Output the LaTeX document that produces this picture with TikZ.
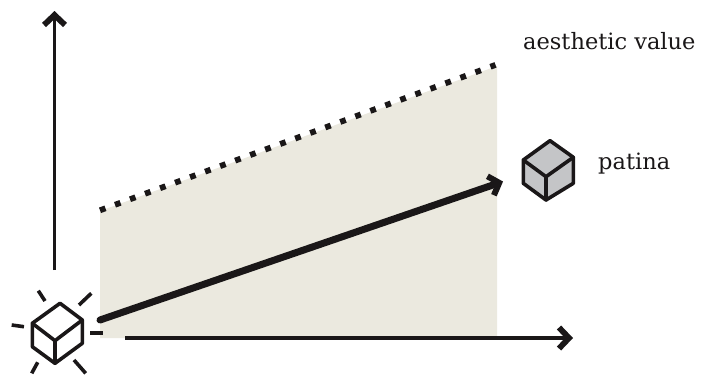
\documentclass[tikz,border=0pt]{standalone}
\usepackage{fontspec}
\setmainfont{DejaVu Serif}
\usetikzlibrary{arrows.meta}
\definecolor{ink}{HTML}{1A1718}
\definecolor{panelbeige}{HTML}{EBE9DF}
\definecolor{cubegrey}{HTML}{C4C5C7}
\tikzset{
  axisline/.style={draw=ink,line width=3.4pt,-{Straight Barb[length=10pt,width=21pt,line width=5.8pt]}},
  trendline/.style={draw=ink,line width=7pt,line cap=round,-{Straight Barb[length=9pt,width=20pt,line width=6pt]}},
  limitline/.style={draw=ink,line width=5.8pt,dash pattern=on 5.8pt off 10.2pt},
  cubeline/.style={draw=ink,line width=3.6pt,line join=round,line cap=round},
  rayline/.style={draw=ink,line width=3.6pt},
  labeltext/.style={anchor=base west,inner sep=0pt,text=ink,font=\fontsize{22.5}{26}\selectfont},
}
\begin{document}
\begin{tikzpicture}[x=1pt,y=-1pt]
\useasboundingbox (0,0) rectangle (703,376);
\fill[panelbeige] (100,211) -- (497,66) -- (497,338) -- (100,338) -- cycle;
% axes
\coordinate (yfoot) at (54.5,270);
\coordinate (ytip) at (54.5,11);
\coordinate (xfoot) at (125,338);
\coordinate (xtip) at (573,338);
\draw[axisline] (yfoot) -- (ytip);
\draw[axisline] (xfoot) -- (xtip);
% lines
\coordinate (dotA) at (100,210.3);
\coordinate (dotB) at (495.5,64.9);
\draw[limitline] (dotA) -- (dotB);
\coordinate (trendA) at (100,320);
\coordinate (trendB) at (503,181.5);
\draw[trendline] (trendA) -- (trendB);
% new cube
\draw[cubeline] (60,303.3) -- (82.3,320) -- (82.3,343.3) -- (55,363.3) -- (32.3,346.7) -- (32.3,323.3) -- cycle;
\draw[cubeline] (32.3,323.3) -- (55,340.7) -- (82.3,320) (55,340.7) -- (55,363.3);
\draw[rayline] (38.3,290.7) -- (45,301);
\draw[rayline] (91.3,293.3) -- (79,305);
\draw[rayline] (11.7,325) -- (24,326.7);
\draw[rayline] (90,332.7) -- (103.3,332.7);
\draw[rayline] (37.7,362.3) -- (31.7,373.3);
\draw[rayline] (74,360) -- (85.7,373.3);
% patina cube
\draw[cubeline,fill=cubegrey] (550,140.7) -- (573.3,157.3) -- (573.3,183.3) -- (546,200) -- (523.3,183.3) -- (523.3,160) -- cycle;
\draw[cubeline] (523.3,160) -- (546,176.7) -- (573.3,157.3) (546,176.7) -- (546,200);
% labels
\node[labeltext] (aesthetic) at (523,49) {aesthetic value};
\node[labeltext] (patina) at (598,169) {patina};
\end{tikzpicture}
\end{document}
